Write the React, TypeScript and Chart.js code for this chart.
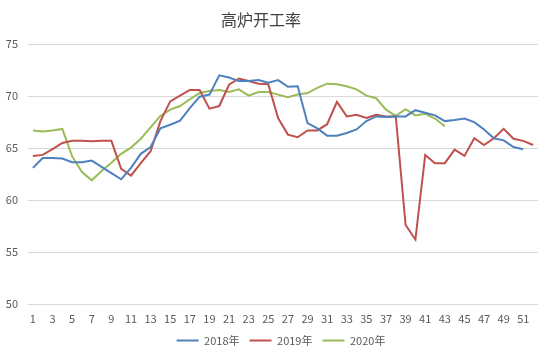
import React, { useEffect, useRef } from "react";
import { Chart, registerables } from "chart.js";

Chart.register(...registerables);

const weeks: string[] = Array.from({ length: 52 }, (_, i) => String(i + 1));

const series2018: number[] = [
  63.1, 64.05, 64.05, 64.0, 63.65, 63.65, 63.8, 63.2, 62.6, 62.0,
  63.1, 64.45, 65.1, 66.9, 67.25, 67.65, 68.85, 69.95, 70.15, 72.0,
  71.8, 71.45, 71.45, 71.55, 71.3, 71.55, 70.9, 70.95, 67.4, 66.9,
  66.2, 66.2, 66.45, 66.8, 67.6, 68.05, 68.0, 68.05, 68.05, 68.65,
  68.4, 68.15, 67.6, 67.7, 67.85, 67.5, 66.8, 65.95, 65.75, 65.1,
  64.9,
];

const series2019: number[] = [
  64.25, 64.35, 64.9, 65.5, 65.7, 65.7, 65.65, 65.7, 65.7, 63.0,
  62.35, 63.55, 64.7, 67.6, 69.5, 70.05, 70.6, 70.6, 68.8, 69.05,
  71.1, 71.7, 71.45, 71.2, 71.15, 67.9, 66.3, 66.05, 66.7, 66.7,
  67.3, 69.45, 68.05, 68.2, 67.9, 68.2, 68.05, 68.05, 57.6, 56.2,
  64.35, 63.55, 63.55, 64.85, 64.25, 65.95, 65.3, 65.95, 66.85, 65.9,
  65.7, 65.3,
];

const series2020: number[] = [
  66.7, 66.6, 66.7, 66.85, 64.2, 62.7, 61.9, 62.8, 63.6, 64.45,
  65.05, 65.9, 67.0, 68.1, 68.7, 69.05, 69.7, 70.3, 70.5, 70.6,
  70.4, 70.65, 70.05, 70.4, 70.4, 70.15, 69.9, 70.15, 70.3, 70.8,
  71.2, 71.15, 70.95, 70.65, 70.05, 69.8, 68.7, 68.1, 68.75, 68.15,
  68.3, 67.85, 67.1,
];

const seriesNames: string[] = ["2018年", "2019年", "2020年"];
const seriesColors: string[] = ["#4F81BD", "#C0504D", "#9BBB59"];
const yTicks: number[] = [50, 55, 60, 65, 70, 75];
const titleText = "高炉开工率";

const shiftBoxes = {
  id: "shiftBoxes",
  afterLayout(chart: any) {
    const t = chart.titleBlock;
    if (t) {
      t.left -= 8;
      t.right -= 8;
      t.top += 1;
      t.bottom += 1;
    }
    const l = chart.legend;
    if (l) {
      l.left += 12;
      l.right += 12;
    }
  },
};

export default function App() {
  const ref = useRef<HTMLCanvasElement | null>(null);

  useEffect(() => {
    if (!ref.current) return;
    const all = [series2018, series2019, series2020];
    const chart = new Chart(ref.current, {
      type: "line",
      data: {
        labels: weeks,
        datasets: all.map((d, i) => ({
          label: seriesNames[i],
          data: d,
          borderColor: seriesColors[i],
          backgroundColor: seriesColors[i],
          borderWidth: 2,
          pointRadius: 0,
          pointHoverRadius: 0,
          pointStyle: "line",
          tension: 0,
          fill: false,
        })),
      },
      plugins: [shiftBoxes],
      options: {
        responsive: false,
        animation: false,
        layout: { padding: { left: 0, right: 12, top: 0, bottom: 2 } },
        plugins: {
          title: {
            display: true,
            text: titleText,
            color: "#404040",
            font: { family: "'Noto Sans CJK SC', sans-serif", size: 16, weight: "normal" },
            padding: { top: 9, bottom: 16 },
          },
          legend: {
            position: "bottom",
            labels: {
              usePointStyle: true,
              pointStyle: "line",
              pointStyleWidth: 22,
              color: "#595959",
              font: { family: "'Noto Sans CJK SC', sans-serif", size: 11 },
              padding: 10,
            },
          },
          tooltip: { enabled: false },
        },
        scales: {
          x: {
            type: "category",
            offset: true,
            grid: { display: false, drawTicks: false, offset: true },
            border: { display: false },
            ticks: {
              autoSkip: false,
              maxRotation: 0,
              padding: 8,
              color: "#595959",
              font: { family: "'Noto Sans CJK SC', sans-serif", size: 11 },
              callback: (_v: any, i: number) => (i % 2 === 0 ? weeks[i] : ""),
            },
            afterFit: (s: any) => {
              s.height = 21;
            },
          },
          y: {
            min: yTicks[0],
            max: yTicks[yTicks.length - 1],
            grid: { color: "#D9D9D9", lineWidth: 1, drawTicks: false },
            border: { display: false },
            afterBuildTicks: (s: any) => {
              s.ticks = yTicks.map((v) => ({ value: v }));
            },
            ticks: {
              padding: 10,
              color: "#595959",
              font: { family: "'Noto Sans CJK SC', sans-serif", size: 11 },
            },
            afterFit: (s: any) => {
              s.width = 28;
            },
          },
        },
      },
    });
    return () => chart.destroy();
  }, []);

  return (
    <div style={{ position: "absolute", left: 0, top: 0, width: 550, height: 358, background: "#fff" }}>
      <canvas ref={ref} width={550} height={358} />
    </div>
  );
}
